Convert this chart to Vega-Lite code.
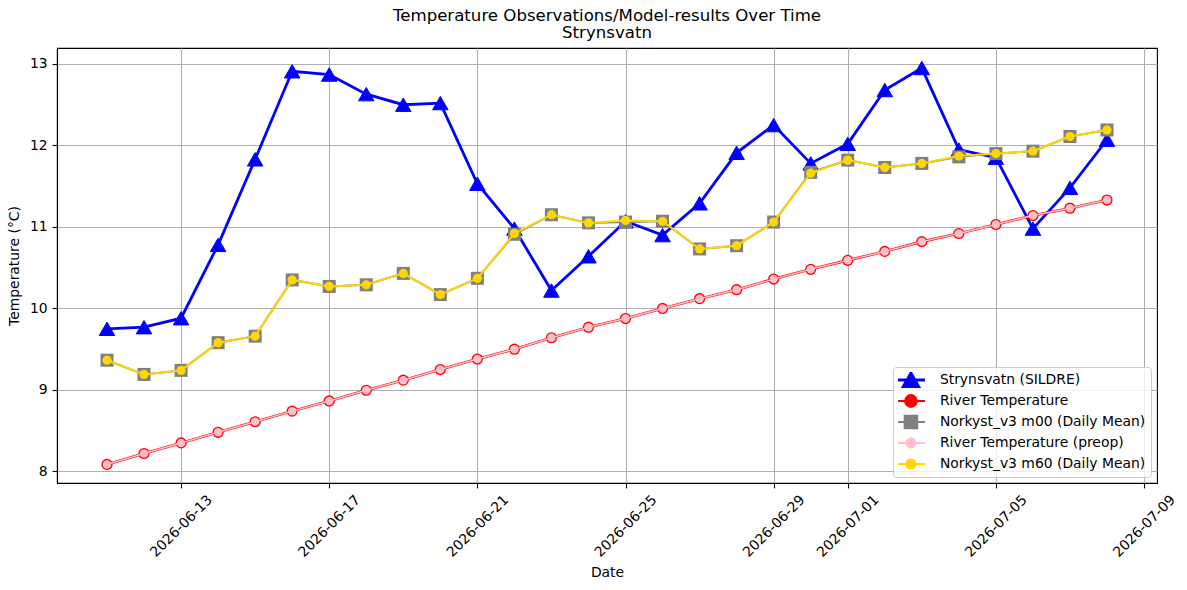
{
  "$schema": "https://vega.github.io/schema/vega-lite/v6.json",
  "autosize": {"type": "none"},
  "padding": {"left": 57, "top": 48, "right": 30, "bottom": 107},
  "width": 1100,
  "height": 435,
  "background": "white",
  "config": {
    "font": "DejaVu Sans",
    "view": {"stroke": "black", "strokeWidth": 1.1},
    "axis": {
      "labelFont": "DejaVu Sans", "titleFont": "DejaVu Sans",
      "labelFontSize": 13.9, "titleFontSize": 13.9,
      "labelColor": "black", "titleColor": "black", "titleFontWeight": "normal",
      "domainColor": "black", "domainWidth": 1.1,
      "tickColor": "black", "tickWidth": 1.1, "tickSize": 4.9,
      "gridColor": "#b0b0b0", "gridWidth": 1.1, "gridOpacity": 1
    }
  },
  "title": {
    "text": "Temperature Observations/Model-results Over Time",
    "subtitle": "Strynsvatn",
    "font": "DejaVu Sans", "subtitleFont": "DejaVu Sans",
    "fontSize": 16.6, "subtitleFontSize": 16.6,
    "fontWeight": "normal", "color": "black", "subtitleColor": "black",
    "anchor": "middle", "offset": 6, "subtitlePadding": 1
  },
  "data": {"values": [
    {"date": "2026-06-11T00:00", "series": "Strynsvatn (SILDRE)", "value": 9.75},
    {"date": "2026-06-12T00:00", "series": "Strynsvatn (SILDRE)", "value": 9.77},
    {"date": "2026-06-13T00:00", "series": "Strynsvatn (SILDRE)", "value": 9.88},
    {"date": "2026-06-14T00:00", "series": "Strynsvatn (SILDRE)", "value": 10.78},
    {"date": "2026-06-15T00:00", "series": "Strynsvatn (SILDRE)", "value": 11.83},
    {"date": "2026-06-16T00:00", "series": "Strynsvatn (SILDRE)", "value": 12.91},
    {"date": "2026-06-17T00:00", "series": "Strynsvatn (SILDRE)", "value": 12.87},
    {"date": "2026-06-18T00:00", "series": "Strynsvatn (SILDRE)", "value": 12.63},
    {"date": "2026-06-19T00:00", "series": "Strynsvatn (SILDRE)", "value": 12.5},
    {"date": "2026-06-20T00:00", "series": "Strynsvatn (SILDRE)", "value": 12.52},
    {"date": "2026-06-21T00:00", "series": "Strynsvatn (SILDRE)", "value": 11.53},
    {"date": "2026-06-22T00:00", "series": "Strynsvatn (SILDRE)", "value": 10.98},
    {"date": "2026-06-23T00:00", "series": "Strynsvatn (SILDRE)", "value": 10.22},
    {"date": "2026-06-24T00:00", "series": "Strynsvatn (SILDRE)", "value": 10.64},
    {"date": "2026-06-25T00:00", "series": "Strynsvatn (SILDRE)", "value": 11.07},
    {"date": "2026-06-26T00:00", "series": "Strynsvatn (SILDRE)", "value": 10.9},
    {"date": "2026-06-27T00:00", "series": "Strynsvatn (SILDRE)", "value": 11.29},
    {"date": "2026-06-28T00:00", "series": "Strynsvatn (SILDRE)", "value": 11.91},
    {"date": "2026-06-29T00:00", "series": "Strynsvatn (SILDRE)", "value": 12.25},
    {"date": "2026-06-30T00:00", "series": "Strynsvatn (SILDRE)", "value": 11.78},
    {"date": "2026-07-01T00:00", "series": "Strynsvatn (SILDRE)", "value": 12.02},
    {"date": "2026-07-02T00:00", "series": "Strynsvatn (SILDRE)", "value": 12.68},
    {"date": "2026-07-03T00:00", "series": "Strynsvatn (SILDRE)", "value": 12.95},
    {"date": "2026-07-04T00:00", "series": "Strynsvatn (SILDRE)", "value": 11.95},
    {"date": "2026-07-05T00:00", "series": "Strynsvatn (SILDRE)", "value": 11.85},
    {"date": "2026-07-06T00:00", "series": "Strynsvatn (SILDRE)", "value": 10.98},
    {"date": "2026-07-07T00:00", "series": "Strynsvatn (SILDRE)", "value": 11.48},
    {"date": "2026-07-08T00:00", "series": "Strynsvatn (SILDRE)", "value": 12.07},

    {"date": "2026-06-11T00:00", "series": "River Temperature", "value": 8.086},
    {"date": "2026-06-12T00:00", "series": "River Temperature", "value": 8.22},
    {"date": "2026-06-13T00:00", "series": "River Temperature", "value": 8.35},
    {"date": "2026-06-14T00:00", "series": "River Temperature", "value": 8.48},
    {"date": "2026-06-15T00:00", "series": "River Temperature", "value": 8.61},
    {"date": "2026-06-16T00:00", "series": "River Temperature", "value": 8.74},
    {"date": "2026-06-17T00:00", "series": "River Temperature", "value": 8.865},
    {"date": "2026-06-18T00:00", "series": "River Temperature", "value": 8.996},
    {"date": "2026-06-19T00:00", "series": "River Temperature", "value": 9.12},
    {"date": "2026-06-20T00:00", "series": "River Temperature", "value": 9.25},
    {"date": "2026-06-21T00:00", "series": "River Temperature", "value": 9.38},
    {"date": "2026-06-22T00:00", "series": "River Temperature", "value": 9.5},
    {"date": "2026-06-23T00:00", "series": "River Temperature", "value": 9.64},
    {"date": "2026-06-24T00:00", "series": "River Temperature", "value": 9.77},
    {"date": "2026-06-25T00:00", "series": "River Temperature", "value": 9.877},
    {"date": "2026-06-26T00:00", "series": "River Temperature", "value": 10.0},
    {"date": "2026-06-27T00:00", "series": "River Temperature", "value": 10.12},
    {"date": "2026-06-28T00:00", "series": "River Temperature", "value": 10.23},
    {"date": "2026-06-29T00:00", "series": "River Temperature", "value": 10.36},
    {"date": "2026-06-30T00:00", "series": "River Temperature", "value": 10.48},
    {"date": "2026-07-01T00:00", "series": "River Temperature", "value": 10.59},
    {"date": "2026-07-02T00:00", "series": "River Temperature", "value": 10.7},
    {"date": "2026-07-03T00:00", "series": "River Temperature", "value": 10.82},
    {"date": "2026-07-04T00:00", "series": "River Temperature", "value": 10.92},
    {"date": "2026-07-05T00:00", "series": "River Temperature", "value": 11.03},
    {"date": "2026-07-06T00:00", "series": "River Temperature", "value": 11.14},
    {"date": "2026-07-07T00:00", "series": "River Temperature", "value": 11.23},
    {"date": "2026-07-08T00:00", "series": "River Temperature", "value": 11.33},

    {"date": "2026-06-11T00:00", "series": "Norkyst_v3 m00 (Daily Mean)", "value": 9.365},
    {"date": "2026-06-12T00:00", "series": "Norkyst_v3 m00 (Daily Mean)", "value": 9.19},
    {"date": "2026-06-13T00:00", "series": "Norkyst_v3 m00 (Daily Mean)", "value": 9.24},
    {"date": "2026-06-14T00:00", "series": "Norkyst_v3 m00 (Daily Mean)", "value": 9.58},
    {"date": "2026-06-15T00:00", "series": "Norkyst_v3 m00 (Daily Mean)", "value": 9.66},
    {"date": "2026-06-16T00:00", "series": "Norkyst_v3 m00 (Daily Mean)", "value": 10.35},
    {"date": "2026-06-17T00:00", "series": "Norkyst_v3 m00 (Daily Mean)", "value": 10.27},
    {"date": "2026-06-18T00:00", "series": "Norkyst_v3 m00 (Daily Mean)", "value": 10.29},
    {"date": "2026-06-19T00:00", "series": "Norkyst_v3 m00 (Daily Mean)", "value": 10.43},
    {"date": "2026-06-20T00:00", "series": "Norkyst_v3 m00 (Daily Mean)", "value": 10.17},
    {"date": "2026-06-21T00:00", "series": "Norkyst_v3 m00 (Daily Mean)", "value": 10.37},
    {"date": "2026-06-22T00:00", "series": "Norkyst_v3 m00 (Daily Mean)", "value": 10.91},
    {"date": "2026-06-23T00:00", "series": "Norkyst_v3 m00 (Daily Mean)", "value": 11.15},
    {"date": "2026-06-24T00:00", "series": "Norkyst_v3 m00 (Daily Mean)", "value": 11.05},
    {"date": "2026-06-25T00:00", "series": "Norkyst_v3 m00 (Daily Mean)", "value": 11.06},
    {"date": "2026-06-26T00:00", "series": "Norkyst_v3 m00 (Daily Mean)", "value": 11.07},
    {"date": "2026-06-27T00:00", "series": "Norkyst_v3 m00 (Daily Mean)", "value": 10.73},
    {"date": "2026-06-28T00:00", "series": "Norkyst_v3 m00 (Daily Mean)", "value": 10.77},
    {"date": "2026-06-29T00:00", "series": "Norkyst_v3 m00 (Daily Mean)", "value": 11.06},
    {"date": "2026-06-30T00:00", "series": "Norkyst_v3 m00 (Daily Mean)", "value": 11.67},
    {"date": "2026-07-01T00:00", "series": "Norkyst_v3 m00 (Daily Mean)", "value": 11.82},
    {"date": "2026-07-02T00:00", "series": "Norkyst_v3 m00 (Daily Mean)", "value": 11.73},
    {"date": "2026-07-03T00:00", "series": "Norkyst_v3 m00 (Daily Mean)", "value": 11.78},
    {"date": "2026-07-04T00:00", "series": "Norkyst_v3 m00 (Daily Mean)", "value": 11.86},
    {"date": "2026-07-05T00:00", "series": "Norkyst_v3 m00 (Daily Mean)", "value": 11.9},
    {"date": "2026-07-06T00:00", "series": "Norkyst_v3 m00 (Daily Mean)", "value": 11.93},
    {"date": "2026-07-07T00:00", "series": "Norkyst_v3 m00 (Daily Mean)", "value": 12.11},
    {"date": "2026-07-08T00:00", "series": "Norkyst_v3 m00 (Daily Mean)", "value": 12.19},

    {"date": "2026-06-11T00:00", "series": "River Temperature (preop)", "value": 8.086},
    {"date": "2026-06-12T00:00", "series": "River Temperature (preop)", "value": 8.22},
    {"date": "2026-06-13T00:00", "series": "River Temperature (preop)", "value": 8.35},
    {"date": "2026-06-14T00:00", "series": "River Temperature (preop)", "value": 8.48},
    {"date": "2026-06-15T00:00", "series": "River Temperature (preop)", "value": 8.61},
    {"date": "2026-06-16T00:00", "series": "River Temperature (preop)", "value": 8.74},
    {"date": "2026-06-17T00:00", "series": "River Temperature (preop)", "value": 8.865},
    {"date": "2026-06-18T00:00", "series": "River Temperature (preop)", "value": 8.996},
    {"date": "2026-06-19T00:00", "series": "River Temperature (preop)", "value": 9.12},
    {"date": "2026-06-20T00:00", "series": "River Temperature (preop)", "value": 9.25},
    {"date": "2026-06-21T00:00", "series": "River Temperature (preop)", "value": 9.38},
    {"date": "2026-06-22T00:00", "series": "River Temperature (preop)", "value": 9.5},
    {"date": "2026-06-23T00:00", "series": "River Temperature (preop)", "value": 9.64},
    {"date": "2026-06-24T00:00", "series": "River Temperature (preop)", "value": 9.77},
    {"date": "2026-06-25T00:00", "series": "River Temperature (preop)", "value": 9.877},
    {"date": "2026-06-26T00:00", "series": "River Temperature (preop)", "value": 10.0},
    {"date": "2026-06-27T00:00", "series": "River Temperature (preop)", "value": 10.12},
    {"date": "2026-06-28T00:00", "series": "River Temperature (preop)", "value": 10.23},
    {"date": "2026-06-29T00:00", "series": "River Temperature (preop)", "value": 10.36},
    {"date": "2026-06-30T00:00", "series": "River Temperature (preop)", "value": 10.48},
    {"date": "2026-07-01T00:00", "series": "River Temperature (preop)", "value": 10.59},
    {"date": "2026-07-02T00:00", "series": "River Temperature (preop)", "value": 10.7},
    {"date": "2026-07-03T00:00", "series": "River Temperature (preop)", "value": 10.82},
    {"date": "2026-07-04T00:00", "series": "River Temperature (preop)", "value": 10.92},
    {"date": "2026-07-05T00:00", "series": "River Temperature (preop)", "value": 11.03},
    {"date": "2026-07-06T00:00", "series": "River Temperature (preop)", "value": 11.14},
    {"date": "2026-07-07T00:00", "series": "River Temperature (preop)", "value": 11.23},
    {"date": "2026-07-08T00:00", "series": "River Temperature (preop)", "value": 11.33},

    {"date": "2026-06-11T00:00", "series": "Norkyst_v3 m60 (Daily Mean)", "value": 9.365},
    {"date": "2026-06-12T00:00", "series": "Norkyst_v3 m60 (Daily Mean)", "value": 9.19},
    {"date": "2026-06-13T00:00", "series": "Norkyst_v3 m60 (Daily Mean)", "value": 9.24},
    {"date": "2026-06-14T00:00", "series": "Norkyst_v3 m60 (Daily Mean)", "value": 9.58},
    {"date": "2026-06-15T00:00", "series": "Norkyst_v3 m60 (Daily Mean)", "value": 9.66},
    {"date": "2026-06-16T00:00", "series": "Norkyst_v3 m60 (Daily Mean)", "value": 10.35},
    {"date": "2026-06-17T00:00", "series": "Norkyst_v3 m60 (Daily Mean)", "value": 10.27},
    {"date": "2026-06-18T00:00", "series": "Norkyst_v3 m60 (Daily Mean)", "value": 10.29},
    {"date": "2026-06-19T00:00", "series": "Norkyst_v3 m60 (Daily Mean)", "value": 10.43},
    {"date": "2026-06-20T00:00", "series": "Norkyst_v3 m60 (Daily Mean)", "value": 10.17},
    {"date": "2026-06-21T00:00", "series": "Norkyst_v3 m60 (Daily Mean)", "value": 10.37},
    {"date": "2026-06-22T00:00", "series": "Norkyst_v3 m60 (Daily Mean)", "value": 10.92},
    {"date": "2026-06-23T00:00", "series": "Norkyst_v3 m60 (Daily Mean)", "value": 11.15},
    {"date": "2026-06-24T00:00", "series": "Norkyst_v3 m60 (Daily Mean)", "value": 11.05},
    {"date": "2026-06-25T00:00", "series": "Norkyst_v3 m60 (Daily Mean)", "value": 11.08},
    {"date": "2026-06-26T00:00", "series": "Norkyst_v3 m60 (Daily Mean)", "value": 11.07},
    {"date": "2026-06-27T00:00", "series": "Norkyst_v3 m60 (Daily Mean)", "value": 10.73},
    {"date": "2026-06-28T00:00", "series": "Norkyst_v3 m60 (Daily Mean)", "value": 10.77},
    {"date": "2026-06-29T00:00", "series": "Norkyst_v3 m60 (Daily Mean)", "value": 11.06},
    {"date": "2026-06-30T00:00", "series": "Norkyst_v3 m60 (Daily Mean)", "value": 11.66},
    {"date": "2026-07-01T00:00", "series": "Norkyst_v3 m60 (Daily Mean)", "value": 11.82},
    {"date": "2026-07-02T00:00", "series": "Norkyst_v3 m60 (Daily Mean)", "value": 11.73},
    {"date": "2026-07-03T00:00", "series": "Norkyst_v3 m60 (Daily Mean)", "value": 11.78},
    {"date": "2026-07-04T00:00", "series": "Norkyst_v3 m60 (Daily Mean)", "value": 11.87},
    {"date": "2026-07-05T00:00", "series": "Norkyst_v3 m60 (Daily Mean)", "value": 11.9},
    {"date": "2026-07-06T00:00", "series": "Norkyst_v3 m60 (Daily Mean)", "value": 11.93},
    {"date": "2026-07-07T00:00", "series": "Norkyst_v3 m60 (Daily Mean)", "value": 12.11},
    {"date": "2026-07-08T00:00", "series": "Norkyst_v3 m60 (Daily Mean)", "value": 12.19}
  ]},
  "encoding": {
    "x": {
      "field": "date", "type": "temporal", "title": "Date",
      "scale": {"domain": [
        {"year": 2026, "month": 6, "date": 9, "hours": 15, "minutes": 36},
        {"year": 2026, "month": 7, "date": 9, "hours": 8, "minutes": 24}
      ], "nice": false},
      "axis": {
        "values": [
          {"year": 2026, "month": 6, "date": 13},
          {"year": 2026, "month": 6, "date": 17},
          {"year": 2026, "month": 6, "date": 21},
          {"year": 2026, "month": 6, "date": 25},
          {"year": 2026, "month": 6, "date": 29},
          {"year": 2026, "month": 7, "date": 1},
          {"year": 2026, "month": 7, "date": 5},
          {"year": 2026, "month": 7, "date": 9}
        ],
        "format": "%Y-%m-%d",
        "labelAngle": -45, "labelAlign": "center", "labelBaseline": "middle",
        "labelPadding": 38, "labelOverlap": false, "labelFlush": false,
        "titlePadding": 6, "grid": true
      }
    },
    "y": {
      "field": "value", "type": "quantitative", "title": "Temperature (°C)",
      "scale": {"domain": [7.858, 13.196], "nice": false, "zero": false},
      "axis": {"values": [8, 9, 10, 11, 12, 13], "format": "d", "labelPadding": 4.9, "titlePadding": 8, "grid": true}
    },
    "color": {
      "field": "series", "type": "nominal",
      "scale": {
        "domain": ["Strynsvatn (SILDRE)", "River Temperature", "Norkyst_v3 m00 (Daily Mean)", "River Temperature (preop)", "Norkyst_v3 m60 (Daily Mean)"],
        "range": ["#0000ff", "#ff0000", "#808080", "#ffc0cb", "#ffd700"]
      },
      "legend": {
        "title": null,
        "orient": "bottom-right",
        "offset": 6,
        "padding": 5,
        "fillColor": "rgba(255,255,255,0.8)",
        "strokeColor": "#cccccc",
        "cornerRadius": 3,
        "labelFont": "DejaVu Sans",
        "labelFontSize": 13.9,
        "labelColor": "black",
        "labelLimit": 400,
        "symbolSize": 784,
        "clipHeight": 16,
        "rowPadding": 5,
        "symbolOffset": 6,
        "labelOffset": 22,
        "symbolStrokeWidth": 2,
        "encode": {
          "symbols": {
            "update": {
              "shape": {"signal": "datum.value === 'Strynsvatn (SILDRE)' ? 'M-1,0L1,0M0,-0.5L0.57,0.5L-0.57,0.5Z' : datum.value === 'River Temperature' ? 'M-1,0L1,0M0.42,0A0.42,0.42,0,1,1,-0.42,0A0.42,0.42,0,1,1,0.42,0Z' : datum.value === 'Norkyst_v3 m00 (Daily Mean)' ? 'M-1,0L1,0M-0.45,-0.45L0.45,-0.45L0.45,0.45L-0.45,0.45Z' : datum.value === 'River Temperature (preop)' ? 'M-1,0L1,0M0.32,0A0.32,0.32,0,1,1,-0.32,0A0.32,0.32,0,1,1,0.32,0Z' : 'M-1,0L1,0M0.33,0A0.33,0.33,0,1,1,-0.33,0A0.33,0.33,0,1,1,0.33,0Z'"},
              "fill": {"signal": "scale('color', datum.value)"},
              "stroke": {"signal": "scale('color', datum.value)"},
              "strokeWidth": {"signal": "datum.value === 'Strynsvatn (SILDRE)' ? 2.8 : 2"},
              "opacity": {"value": 1},
              "fillOpacity": {"value": 1},
              "strokeOpacity": {"value": 1}
            }
          }
        }
      }
    }
  },
  "layer": [
    {"transform": [{"filter": "datum.series === 'Strynsvatn (SILDRE)'"}], "mark": {"type": "line", "strokeWidth": 2.8}},
    {"transform": [{"filter": "datum.series === 'Strynsvatn (SILDRE)'"}], "mark": {"type": "point", "shape": "triangle-up", "size": 240, "filled": true, "opacity": 1, "stroke": "#0000ff", "strokeWidth": 1}},
    {"transform": [{"filter": "datum.series === 'River Temperature'"}], "mark": {"type": "line", "strokeWidth": 2.6}},
    {"transform": [{"filter": "datum.series === 'River Temperature'"}], "mark": {"type": "point", "shape": "circle", "size": 125, "filled": true, "opacity": 1}},
    {"transform": [{"filter": "datum.series === 'Norkyst_v3 m00 (Daily Mean)'"}], "mark": {"type": "line", "strokeWidth": 2}},
    {"transform": [{"filter": "datum.series === 'Norkyst_v3 m00 (Daily Mean)'"}], "mark": {"type": "point", "shape": "square", "size": 170, "filled": true, "opacity": 1}},
    {"transform": [{"filter": "datum.series === 'River Temperature (preop)'"}], "mark": {"type": "line", "strokeWidth": 1.5}},
    {"transform": [{"filter": "datum.series === 'River Temperature (preop)'"}], "mark": {"type": "point", "shape": "circle", "size": 72, "filled": true, "opacity": 1}},
    {"transform": [{"filter": "datum.series === 'Norkyst_v3 m60 (Daily Mean)'"}], "mark": {"type": "line", "strokeWidth": 2}},
    {"transform": [{"filter": "datum.series === 'Norkyst_v3 m60 (Daily Mean)'"}], "mark": {"type": "point", "shape": "circle", "size": 85, "filled": true, "opacity": 1}}
  ]
}
